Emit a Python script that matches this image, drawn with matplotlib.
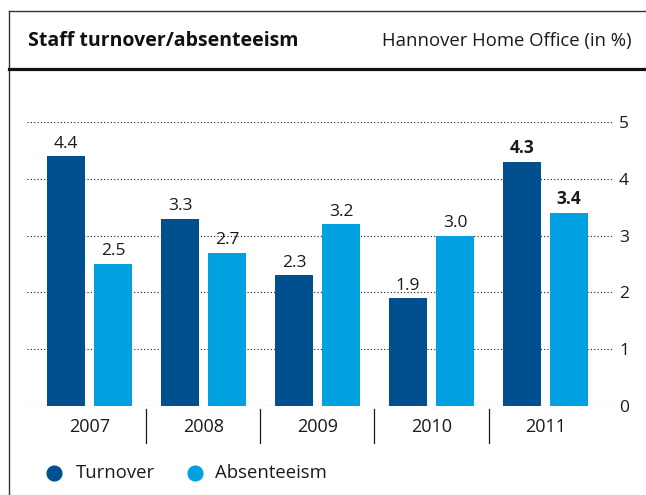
import numpy as np
import matplotlib.pyplot as plt
from matplotlib.lines import Line2D
from matplotlib.transforms import blended_transform_factory

plt.rcParams['font.family'] = ['Open Sans', 'DejaVu Sans']

# dados
anos = ['2007', '2008', '2009', '2010', '2011']
turnover = [4.4, 3.3, 2.3, 1.9, 4.3]
absenteeism = [2.5, 2.7, 3.2, 3.0, 3.4]
rotulos_t = ['4.4', '3.3', '2.3', '1.9', '4.3']
rotulos_a = ['2.5', '2.7', '3.2', '3.0', '3.4']
series = ['Turnover', 'Absenteeism']

cor_t = '#00508f'
cor_a = '#00a0e1'
cinza = '#1a1a1a'

W, H = 646, 495
fig = plt.figure(figsize=(W / 100, H / 100), dpi=100)
ax = fig.add_axes([27 / W, 1 - 406 / H, (613 - 27) / W, (406 - 122) / H])

x = np.arange(len(anos))
larg = 0.333
desl = 0.206
ax.bar(x - desl, turnover, width=larg, color=cor_t, zorder=3)
ax.bar(x + desl, absenteeism, width=larg, color=cor_a, zorder=3)

for i in range(len(anos)):
    peso = 'bold' if i == len(anos) - 1 else 'normal'
    ax.text(x[i] - desl, turnover[i] + 0.08, rotulos_t[i], ha='center', va='bottom',
            fontsize=12.5, color=cinza, fontweight=peso)
    ax.text(x[i] + desl, absenteeism[i] + 0.08, rotulos_a[i], ha='center', va='bottom',
            fontsize=12.5, color=cinza, fontweight=peso)

ax.set_xlim(-0.548, 4.592)
ax.set_ylim(0, 5)
ax.set_yticks(range(6))
ax.yaxis.tick_right()
ax.tick_params(axis='y', length=0, pad=4.3, labelsize=12.5, labelcolor=cinza)
ax.set_xticks([])
for s in ax.spines.values():
    s.set_visible(False)
ax.grid(axis='y', linestyle=(0, (1, 2)), color=cinza, linewidth=0.8, zorder=0)

# anos e separadores
tr = blended_transform_factory(ax.transData, ax.transAxes)
for i, ano in enumerate(anos):
    ax.text(x[i], -0.075, ano, transform=tr, ha='center', va='center',
            fontsize=13, color=cinza)
for i in range(len(anos) - 1):
    ax.plot([x[i] + 0.5, x[i] + 0.5], [-0.011, -0.13], transform=tr,
            color=cinza, linewidth=0.9, clip_on=False)

# cabeçalho e moldura
fig.add_artist(Line2D([9 / W, 9 / W], [0, 1 - 11 / H], color='#333333', linewidth=1))
fig.add_artist(Line2D([9 / W, 1], [1 - 11 / H, 1 - 11 / H], color='#333333', linewidth=1))
fig.add_artist(Line2D([9 / W, 1], [1 - 69 / H, 1 - 69 / H], color='#111111', linewidth=2.3))
fig.text(28 / W, 1 - 41 / H, 'Staff turnover/absenteeism', fontsize=14,
         fontweight='bold', va='center', ha='left', color='#111111')
fig.text(632 / W, 1 - 41 / H, 'Hannover Home Office (in %)', fontsize=13.3,
         va='center', ha='right', color=cinza)

# legenda
ly = 1 - 473 / H
for cx, tx, cor, nome in [(53.5, 76, cor_t, series[0]), (194.5, 215, cor_a, series[1])]:
    fig.add_artist(Line2D([cx / W], [ly], marker='o', markersize=10.6,
                          color=cor, linestyle='none'))
    fig.text(tx / W, ly, nome, fontsize=13.3, color=cinza, ha='left', va='center')

fig.savefig('out.png', dpi=100)
